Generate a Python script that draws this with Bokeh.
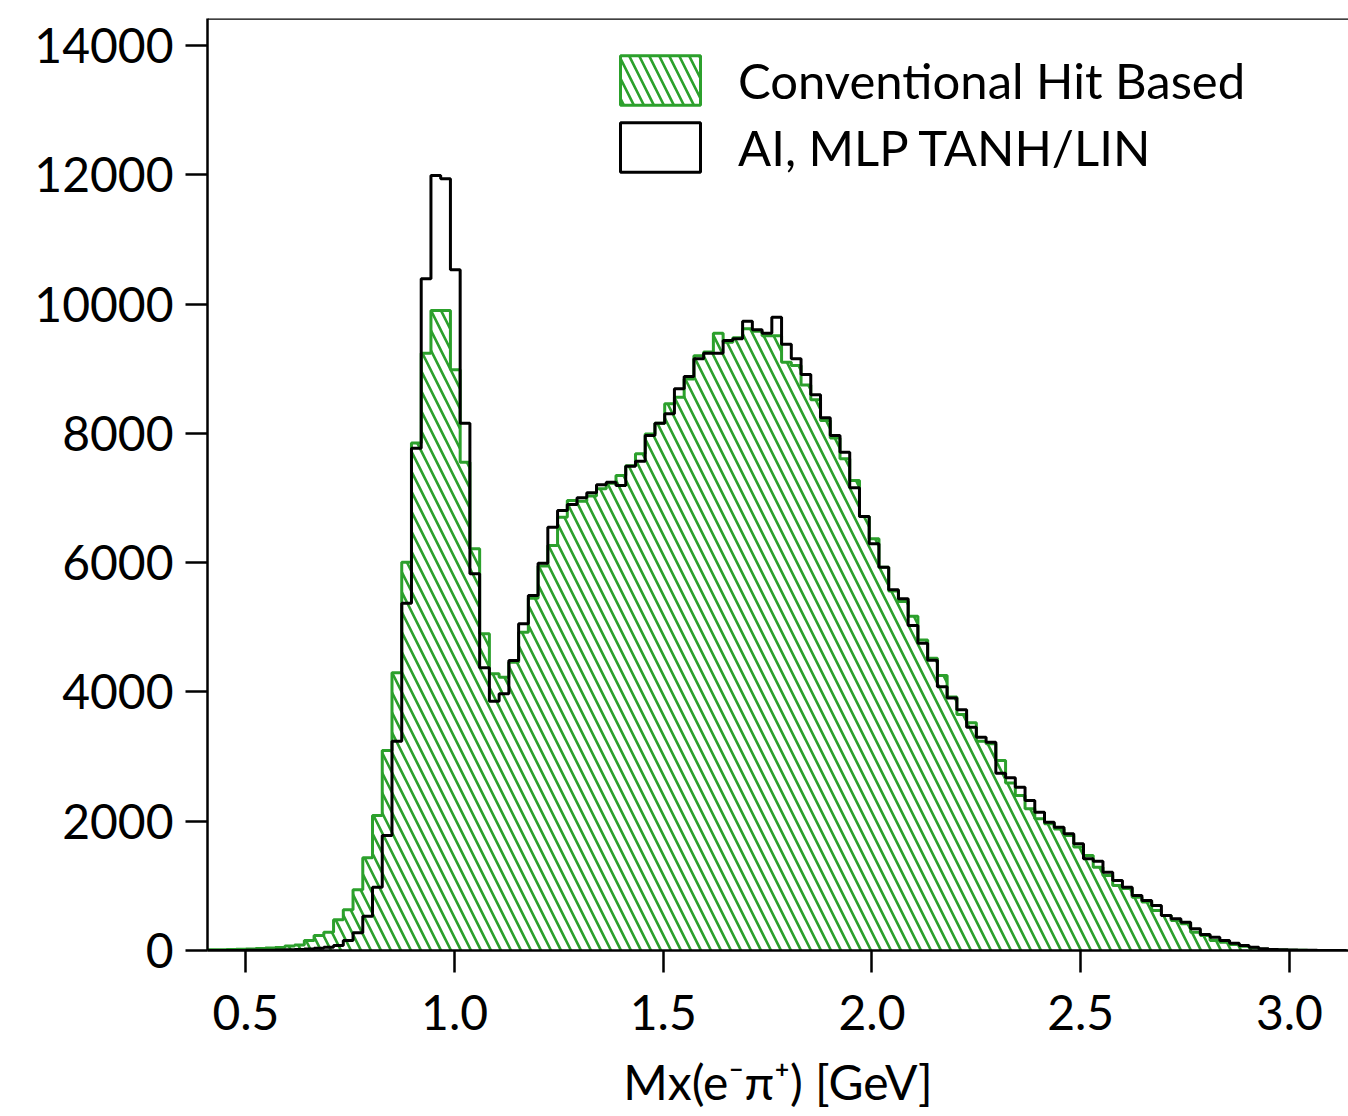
import numpy as np
from bokeh.plotting import figure
from bokeh.models import (Range1d, Legend, LegendItem, FixedTicker, Span,
                          NumeralTickFormatter, ColumnDataSource)
from bokeh.embed import file_html
from bokeh.resources import INLINE

# ---- data -------------------------------------------------------------
BIN_START = 0.40667          # first bin edge [GeV]
BIN_WIDTH = 7.0 / 300.0      # bin width [GeV]

conventional = [
    10, 12, 15, 20, 25, 30, 40, 45, 70, 85,
    155, 232, 283, 475, 630, 939, 1434, 2088, 3094, 4296,
    6007, 7850, 9240, 9901, 9901, 8983, 7554, 6214, 4899, 4281,
    4228, 4460, 4925, 5450, 5950, 6265, 6703, 6961, 6950, 7030,
    7142, 7230, 7348, 7500, 7683, 7990, 8158, 8457, 8560, 8840,
    9200, 9260, 9550, 9410, 9480, 9620, 9580, 9510, 9510, 9100,
    9050, 8750, 8520, 8200, 7930, 7606, 7271, 6714, 6369, 5930,
    5560, 5400, 5170, 4803, 4520, 4254, 3920, 3650, 3522, 3238,
    3197, 2939, 2590, 2398, 2192, 2037, 1960, 1880, 1780, 1600,
    1470, 1289, 1160, 1006, 960, 825, 750, 619, 541, 464,
    413, 282, 232, 155, 129, 93, 67, 41, 20, 10,
    6, 4, 2, 1, 1, 0, 0]

ai_mlp = [
    0, 0, 1, 1, 2, 3, 4, 6, 10, 15,
    25, 35, 51, 77, 155, 274, 531, 980, 1779, 3238,
    5373, 7770, 10391, 11989, 11938, 10530, 8158, 5828, 4373, 3857,
    3971, 4486, 5054, 5492, 5990, 6549, 6807, 6900, 7003, 7080,
    7204, 7245, 7194, 7493, 7570, 7967, 8158, 8302, 8689, 8880,
    9153, 9241, 9241, 9437, 9462, 9736, 9602, 9550, 9798, 9380,
    9153, 8911, 8596, 8240, 7967, 7709, 7157, 6714, 6291, 5930,
    5580, 5440, 5028, 4755, 4490, 4080, 3905, 3723, 3455, 3300,
    3223, 2743, 2671, 2527, 2320, 2140, 1985, 1908, 1805, 1650,
    1418, 1380, 1212, 1083, 980, 851, 774, 696, 541, 490,
    438, 335, 248, 206, 155, 113, 77, 52, 26, 15,
    10, 6, 4, 2, 1, 1, 0]

series_labels = ["Conventional Hit Based", "AI, MLP TANH/LIN"]
x_ticks = [0.5, 1.0, 1.5, 2.0, 2.5, 3.0]
y_ticks = [0, 2000, 4000, 6000, 8000, 10000, 12000, 14000]
x_title = "Mx(e\u207b\u03c0\u207a) [GeV]"

# ---- derived step arrays ---------------------------------------------
edges = [BIN_START + i * BIN_WIDTH for i in range(len(conventional) + 1)]
y_conv = conventional + [conventional[-1]]
y_ai = ai_mlp + [ai_mlp[-1]]

GREEN = "#2ca02c"
FONT = "Lato"
HATCH = dict(hatch_pattern="\\", hatch_color=GREEN, hatch_weight=2.6,
             hatch_scale=20)

p = figure(width=1348, height=1116, output_backend="svg", toolbar_location=None,
           x_range=Range1d(0.408, 3.1416), y_range=Range1d(0, 14418),
           min_border_left=207, min_border_right=0, min_border_top=18,
           min_border_bottom=166)
p.outline_line_color = None
p.grid.visible = False

# hatched conventional histogram
p.varea_step(x=edges, y1=[0] * len(edges), y2=y_conv, step_mode="after",
             fill_color="white", fill_alpha=0.0, **HATCH)
p.step(edges, y_conv, mode="after", line_color=GREEN, line_width=3)
# AI histogram outline
p.step(edges, y_ai, mode="after", line_color="black", line_width=3)

# top frame line
p.add_layout(Span(location=14418, dimension="width", line_color="black",
                  line_width=2.5))

# axes
p.xaxis.ticker = FixedTicker(ticks=x_ticks)
p.xaxis.formatter = NumeralTickFormatter(format="0.0")
p.yaxis.ticker = FixedTicker(ticks=y_ticks)
p.yaxis.formatter = NumeralTickFormatter(format="0")
for ax in (p.xaxis[0], p.yaxis[0]):
    ax.major_tick_out = 22
    ax.major_tick_in = 0
    ax.minor_tick_out = 0
    ax.minor_tick_in = 0
    ax.axis_line_width = 2.5
    ax.axis_line_color = "black"
    ax.major_tick_line_width = 2.5
    ax.major_tick_line_color = "black"
    ax.major_label_text_font = FONT
    ax.major_label_text_font_size = "48px"
    ax.major_label_text_color = "black"
p.xaxis.major_label_standoff = 22
p.yaxis.major_label_standoff = 12
p.xaxis.axis_label = x_title
p.xaxis.axis_label_text_font = FONT
p.xaxis.axis_label_text_font_size = "48px"
p.xaxis.axis_label_text_font_style = "normal"
p.xaxis.axis_label_text_color = "black"
p.xaxis.axis_label_standoff = 20

# legend proxies: a single NaN box each, so nothing is drawn in the plot
nan_box = dict(left=[np.nan], right=[np.nan], top=[np.nan], bottom=[np.nan])
lg_green = p.quad(left="left", right="right", top="top", bottom="bottom",
                  source=ColumnDataSource(dict(nan_box)), fill_color="white",
                  line_color=GREEN, line_width=3, **HATCH)
lg_black = p.quad(left="left", right="right", top="top", bottom="bottom",
                  source=ColumnDataSource(dict(nan_box)), fill_color="white",
                  line_color="black", line_width=3)
legend = Legend(items=[LegendItem(label=series_labels[0], renderers=[lg_green]),
                       LegendItem(label=series_labels[1], renderers=[lg_black])],
                location=(403, 772), glyph_width=100, glyph_height=62,
                label_height=62, spacing=5, padding=0, margin=0,
                border_line_color=None, background_fill_alpha=0,
                label_text_font=FONT, label_text_font_size="49px",
                label_standoff=28, label_text_color="black")
p.add_layout(legend)

open("out.html", "w").write(file_html(p, INLINE))
